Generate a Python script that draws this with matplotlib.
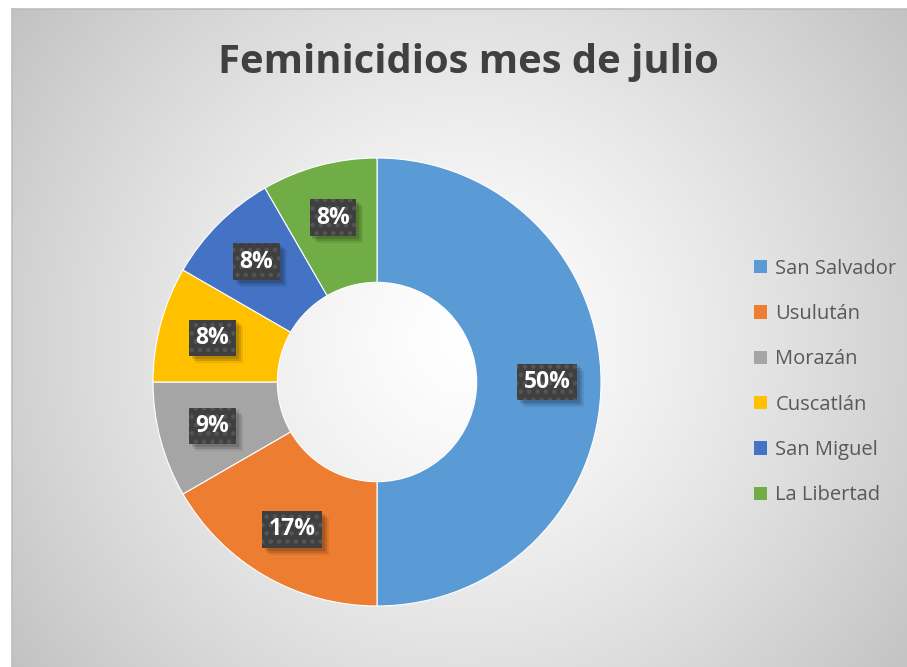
import numpy as np
import matplotlib
matplotlib.use("Agg")
import matplotlib.pyplot as plt
import matplotlib.patheffects as pe
from matplotlib.patches import Patch

# data (counts per department, labels as printed on the chart)
departamentos = ["San Salvador", "Usulután", "Morazán", "Cuscatlán", "San Miguel", "La Libertad"]
casos = [6, 2, 1, 1, 1, 1]
etiquetas = ["50%", "17%", "9%", "8%", "8%", "8%"]
colores = ["#5B9BD5", "#ED7D31", "#A5A5A5", "#FFC000", "#4472C4", "#70AD47"]
titulo = "Feminicidios mes de julio"

plt.rcParams["font.family"] = ["Open Sans", "DejaVu Sans"]
plt.rcParams["hatch.linewidth"] = 2.0


class SoftShadow(pe.AbstractPathEffect):
    """plain (unhatched) translucent copy of the patch, offset down-right"""
    def __init__(self, offset=(3, -3), alpha=0.12):
        super().__init__(offset)
        self.alpha = alpha

    def draw_path(self, renderer, gc, tpath, affine, rgbFace):
        gc0 = renderer.new_gc()
        gc0.copy_properties(gc)
        gc0.set_hatch(None)
        gc0.set_linewidth(0)
        gc0.set_alpha(self.alpha)
        renderer.draw_path(gc0, tpath, affine + self._offset_transform(renderer), (0, 0, 0))
        gc0.restore()


W, H = 907, 667
fig = plt.figure(figsize=(W / 100, H / 100), dpi=100)
fig.patch.set_facecolor("white")

# radial gradient background of the chart area
bg = fig.add_axes([12 / W, 0, 1 - 12 / W, 1 - 9 / H], zorder=-5)
ny, nx = 658, 895
yy, xx = np.mgrid[0:ny, 0:nx]
r = np.hypot(xx - 450, yy - 330) / 560.0
val = 1 - 0.24 * np.clip(r, 0, 1.2) ** 1.3
bg.imshow(np.dstack([val, val, val]), aspect="auto", extent=[0, 1, 0, 1])
bg.set_xticks([])
bg.set_yticks([])
for side in ["right", "bottom"]:
    bg.spines[side].set_visible(False)
for side in ["top", "left"]:
    bg.spines[side].set_color("#bdbdbd")
    bg.spines[side].set_linewidth(1.2)

# donut
cx, cy, rad = 377, H - 382, 224
ax = fig.add_axes([(cx - rad) / W, (cy - rad) / H, 2 * rad / W, 2 * rad / H])
ax.set_facecolor("none")
wedges, _ = ax.pie(casos, colors=colores, startangle=90, counterclock=False,
                   radius=1, wedgeprops=dict(width=0.555, edgecolor="white", linewidth=0.8))
ax.set_xlim(-1, 1)
ax.set_ylim(-1, 1)
ax.set_aspect("equal")
ax.axis("off")

# data labels in dark boxes at the middle of each wedge
for w, lbl in zip(wedges, etiquetas):
    mid = np.deg2rad((w.theta1 + w.theta2) / 2)
    x, y = 0.76 * np.cos(mid), 0.76 * np.sin(mid)
    t = ax.text(x, y, lbl, ha="center", va="center", fontsize=16.5, fontweight="bold",
                color="white",
                bbox=dict(boxstyle="square,pad=0.28", fc="#3f3f3f", ec="#555555",
                          lw=0, hatch=".."))
    t.get_bbox_patch().set_path_effects([
        SoftShadow((2, -2)), SoftShadow((3.5, -3.5)), SoftShadow((5, -5), 0.08),
        pe.Normal()])

fig.text(468 / W, 1 - 73 / H, titulo, ha="center", va="baseline", fontsize=28.8,
         fontweight="bold", color="#404040")

handles = [Patch(facecolor=c, edgecolor="none") for c in colores]
fig.legend(handles, departamentos, loc="center left",
           bbox_to_anchor=(736 / W, 1 - 382 / H), frameon=False, fontsize=14.5,
           labelcolor="#595959", labelspacing=1.26, handlelength=0.65,
           handleheight=0.65, handletextpad=0.4)

fig.savefig("out.png", dpi=100)
